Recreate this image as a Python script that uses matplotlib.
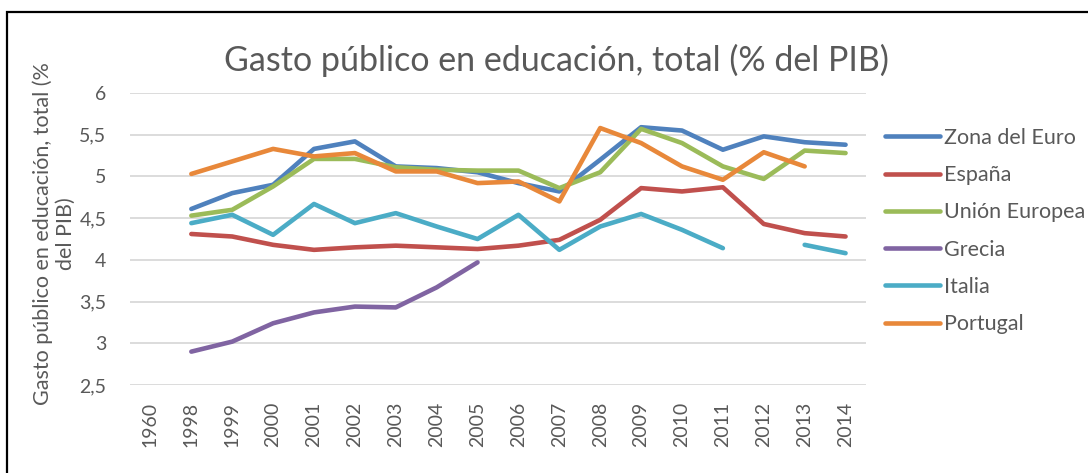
import numpy as np
import matplotlib
matplotlib.use('Agg')
import matplotlib.pyplot as plt
from matplotlib.patches import Rectangle

plt.rcParams['font.family'] = ['Lato', 'DejaVu Sans']

years = ['1960'] + [str(y) for y in range(1998, 2015)]
nan = np.nan

# valores (1960 sin datos)
zona_euro = [nan, 4.61, 4.80, 4.90, 5.33, 5.42, 5.12, 5.10, 5.05, 4.92, 4.82, 5.20, 5.59, 5.55, 5.32, 5.48, 5.41, 5.38]
espana = [nan, 4.31, 4.28, 4.18, 4.12, 4.15, 4.17, 4.15, 4.13, 4.17, 4.24, 4.48, 4.86, 4.82, 4.87, 4.43, 4.32, 4.28]
union_europea = [nan, 4.53, 4.60, 4.88, 5.21, 5.21, 5.11, 5.08, 5.07, 5.07, 4.86, 5.05, 5.57, 5.40, 5.12, 4.97, 5.31, 5.28]
grecia = [nan, 2.90, 3.02, 3.24, 3.37, 3.44, 3.43, 3.67, 3.97, nan, nan, nan, nan, nan, nan, nan, nan, nan]
italia = [nan, 4.44, 4.54, 4.30, 4.67, 4.44, 4.56, 4.40, 4.25, 4.54, 4.12, 4.40, 4.55, 4.36, 4.14, nan, 4.18, 4.08]
portugal = [nan, 5.03, 5.18, 5.33, 5.24, 5.28, 5.06, 5.06, 4.92, 4.94, 4.70, 5.58, 5.40, 5.12, 4.96, 5.29, 5.12, nan]

series = [('Zona del Euro', zona_euro, '#4F81BD'),
          ('España', espana, '#C0504D'),
          ('Unión Europea', union_europea, '#9BBB59'),
          ('Grecia', grecia, '#8064A2'),
          ('Italia', italia, '#4BACC6'),
          ('Portugal', portugal, '#E8883A')]

grey = '#595959'
W, H = 1088, 473
fig = plt.figure(figsize=(W / 100, H / 100), dpi=100)
ax = fig.add_axes([130 / W, 1 - 385 / H, (866 - 130) / W, (385 - 93) / H])

x = np.arange(len(years))
for name, vals, col in series:
    ax.plot(x, vals, color=col, lw=3.3, label=name, solid_capstyle='round', solid_joinstyle='round')

ax.set_xlim(-0.5, len(years) - 0.5)
ax.set_ylim(2.5, 6)
yt = np.arange(2.5, 6.01, 0.5)
ax.set_yticks(yt)
ax.set_yticklabels([('%g' % v).replace('.', ',') for v in yt])
ax.set_xticks(x)
ax.set_xticklabels(years, rotation=90)
ax.tick_params(axis='both', length=0, colors=grey, labelsize=14)
ax.tick_params(axis='y', pad=17)
ax.tick_params(axis='x', pad=12)
ax.grid(axis='y', color='#D9D9D9', lw=1.3)
ax.set_axisbelow(True)
for s in ax.spines.values():
    s.set_visible(False)

ax.set_ylabel('Gasto público en educación, total (%\ndel PIB)', color=grey, fontsize=15.5)
ax.yaxis.set_label_coords(-54 / (866 - 130), 0.52)

fig.text(556 / W, 1 - 60 / H, 'Gasto público en educación, total (% del PIB)',
         ha='center', va='center', fontsize=24.5, color=grey)

fig.legend(loc='upper left', bbox_to_anchor=(885 / W, 1 - 128 / H), frameon=False,
           fontsize=15.5, labelcolor=grey, handlelength=2.55, handletextpad=0.2,
           labelspacing=0.8, borderaxespad=0, borderpad=0)

fig.patches.append(Rectangle((7 / W, -0.1), 1.2, 1.1 - 12.5 / H, transform=fig.transFigure,
                             fill=False, edgecolor='black', lw=1.6, clip_on=False))

fig.savefig('out.png', dpi=100)
